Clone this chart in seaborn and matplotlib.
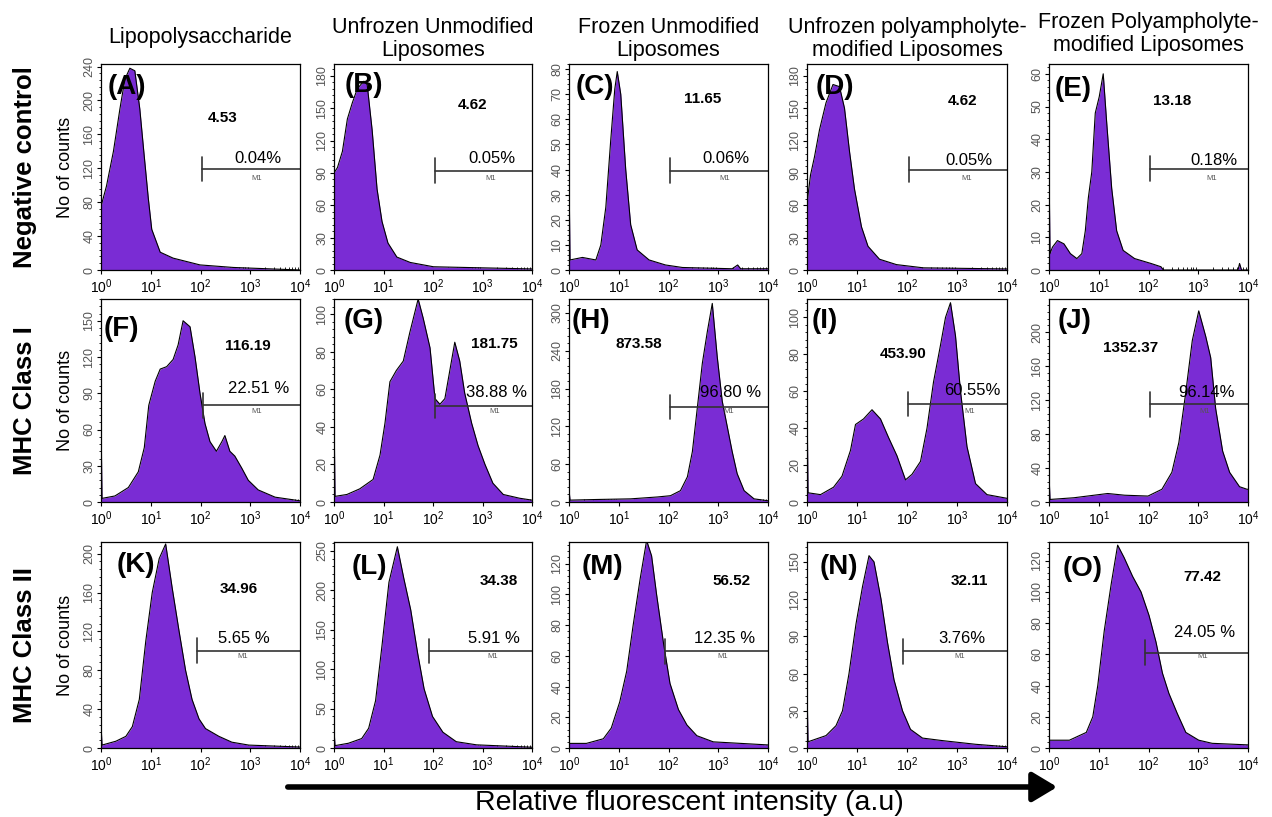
import numpy as np
import matplotlib
matplotlib.use("Agg")
import matplotlib.pyplot as plt
import seaborn as sns
from matplotlib.ticker import MultipleLocator, LogLocator, NullFormatter

sns.set_style("ticks")
plt.rcParams['font.family'] = ['Liberation Sans', 'DejaVu Sans']
plt.rcParams['mathtext.fontset'] = 'custom'
plt.rcParams['mathtext.rm'] = 'Liberation Sans'
plt.rcParams['text.color'] = 'black'
plt.rcParams['axes.edgecolor'] = 'black'
plt.rcParams['xtick.color'] = 'black'
plt.rcParams['ytick.color'] = 'black'

# histogram outlines: log10(intensity), counts
A_x = [0, 0.11, 0.25, 0.38, 0.48, 0.58, 0.68, 0.78, 0.86, 0.95, 1.02, 1.19, 1.45, 1.99, 2.66, 4]
A_y = [75, 99, 140, 190, 225, 238, 235, 190, 140, 85, 48, 21, 14, 6, 3, 0]
B_x = [0, 0.07, 0.17, 0.27, 0.37, 0.47, 0.60, 0.67, 0.77, 0.87, 0.97, 1.09, 1.27, 1.54, 2.01, 4]
B_y = [90, 95, 110, 140, 155, 168, 175, 172, 130, 75, 45, 25, 12, 7, 3, 1]
C_x = [0, 0.02, 0.27, 0.54, 0.64, 0.74, 0.84, 0.92, 0.97, 1.04, 1.14, 1.24, 1.37, 1.61, 1.94, 2.28, 3.28, 3.39, 3.45, 4]
C_y = [40, 4, 5, 4, 10, 25, 52, 72, 79, 70, 40, 18, 8, 4, 2, 1, 0.5, 2, 0.5, 0.5]
D_x = [0, 0.07, 0.15, 0.25, 0.38, 0.52, 0.65, 0.75, 0.85, 0.95, 1.09, 1.22, 1.45, 1.79, 2.33, 4]
D_y = [62, 88, 105, 130, 155, 172, 170, 150, 110, 75, 40, 22, 10, 5, 2, 1]
E_x = [0, 0.02, 0.07, 0.17, 0.30, 0.43, 0.56, 0.66, 0.73, 0.79, 0.86, 0.93, 1.01, 1.09, 1.16, 1.26, 1.36, 1.49, 1.72, 2.05, 2.25, 2.3, 3.8, 3.83, 3.87, 4]
E_y = [33, 5, 7, 9, 8, 5, 3.5, 5, 12, 22, 30, 48, 53, 60, 45, 25, 12, 6, 3.5, 2, 1, 0, 0, 2, 0, 0]
F_x = [0, 0.02, 0.28, 0.55, 0.75, 0.87, 0.96, 1.09, 1.19, 1.32, 1.45, 1.55, 1.65, 1.79, 1.89, 1.99, 2.09, 2.19, 2.32, 2.43, 2.49, 2.59, 2.69, 2.83, 2.96, 3.16, 3.50, 4]
F_y = [70, 3, 5, 12, 25, 45, 80, 100, 110, 112, 118, 130, 150, 145, 120, 90, 65, 50, 42, 50, 55, 42, 38, 28, 18, 10, 4, 1]
G_x = [0, 0.02, 0.26, 0.52, 0.79, 0.93, 1.03, 1.13, 1.26, 1.40, 1.53, 1.70, 1.80, 1.94, 2.04, 2.14, 2.24, 2.34, 2.44, 2.54, 2.64, 2.78, 2.91, 3.05, 3.21, 3.42, 3.75, 4]
G_y = [50, 3, 4, 7, 12, 25, 42, 64, 70, 75, 90, 108, 98, 82, 55, 52, 55, 70, 85, 75, 58, 42, 30, 20, 10, 4, 2, 1]
H_x = [0, 0.02, 0.57, 1.24, 1.78, 2.04, 2.24, 2.38, 2.48, 2.58, 2.68, 2.78, 2.88, 2.98, 3.08, 3.18, 3.28, 3.38, 3.52, 3.72, 4]
H_y = [20, 3, 4, 5, 8, 10, 18, 40, 80, 150, 220, 270, 315, 230, 160, 120, 80, 45, 18, 5, 2]
I_x = [0, 0.02, 0.27, 0.53, 0.70, 0.87, 0.97, 1.13, 1.30, 1.47, 1.63, 1.80, 1.97, 2.10, 2.27, 2.40, 2.53, 2.67, 2.77, 2.87, 2.97, 3.07, 3.20, 3.37, 3.60, 4]
I_y = [58, 5, 4, 8, 14, 28, 42, 45, 50, 45, 35, 25, 12, 15, 22, 40, 65, 85, 100, 108, 90, 60, 30, 10, 4, 2]
J_x = [0, 0.02, 0.50, 1.18, 1.52, 1.99, 2.27, 2.47, 2.61, 2.74, 2.88, 3.01, 3.15, 3.25, 3.35, 3.49, 3.63, 3.83, 3.98, 4]
J_y = [33, 3, 5, 10, 8, 7, 15, 35, 70, 125, 190, 225, 195, 170, 110, 60, 35, 18, 15, 15]
K_x = [0, 0.02, 0.30, 0.50, 0.63, 0.77, 0.90, 1.03, 1.17, 1.30, 1.43, 1.57, 1.70, 1.83, 1.97, 2.10, 2.37, 2.63, 2.97, 4]
K_y = [25, 3, 7, 12, 22, 50, 110, 160, 195, 210, 165, 120, 80, 50, 30, 20, 12, 6, 3, 1]
L_x = [0, 0.02, 0.29, 0.56, 0.70, 0.84, 0.97, 1.11, 1.28, 1.41, 1.55, 1.69, 1.82, 1.99, 2.20, 2.47, 2.88, 4]
L_y = [23, 3, 6, 12, 25, 60, 130, 210, 255, 215, 175, 120, 75, 40, 20, 8, 4, 1]
M_x = [0, 0.35, 0.69, 0.85, 1.02, 1.16, 1.29, 1.43, 1.56, 1.66, 1.76, 1.90, 2.03, 2.20, 2.37, 2.57, 2.90, 4]
M_y = [3, 3, 6, 13, 30, 50, 80, 110, 135, 125, 100, 68, 42, 25, 15, 8, 4, 2]
N_x = [0, 0.02, 0.38, 0.58, 0.71, 0.84, 0.98, 1.11, 1.24, 1.34, 1.48, 1.61, 1.74, 1.91, 2.07, 2.31, 2.70, 3.37, 4]
N_y = [50, 5, 10, 18, 30, 60, 100, 130, 155, 150, 120, 85, 55, 30, 15, 8, 6, 3, 1]
O_x = [0, 0.41, 0.75, 0.88, 0.98, 1.11, 1.25, 1.38, 1.51, 1.68, 1.85, 2.01, 2.15, 2.28, 2.41, 2.58, 2.75, 3.01, 3.28, 4]
O_y = [5, 5, 10, 20, 40, 75, 105, 130, 122, 110, 100, 85, 68, 48, 35, 22, 10, 5, 3, 2]

letters = list("ABCDEFGHIJKLMNO")
hist_x = [A_x, B_x, C_x, D_x, E_x, F_x, G_x, H_x, I_x, J_x, K_x, L_x, M_x, N_x, O_x]
hist_y = [A_y, B_y, C_y, D_y, E_y, F_y, G_y, H_y, I_y, J_y, K_y, L_y, M_y, N_y, O_y]
y_max = [243, 191, 82, 191, 63, 168, 108, 322, 110, 239, 212, 261, 134, 166, 132]
y_step = [40, 30, 10, 30, 10, 30, 20, 60, 20, 40, 40, 50, 20, 30, 20]
mean_vals = ["4.53", "4.62", "11.65", "4.62", "13.18", "116.19", "181.75", "873.58", "453.90", "1352.37",
             "34.96", "34.38", "56.52", "32.11", "77.42"]
pct_vals = ["0.04%", "0.05%", "0.06%", "0.05%", "0.18%", "22.51 %", "38.88 %", "96.80 %", "60.55%", "96.14%",
            "5.65 %", "5.91 %", "12.35 %", "3.76%", "24.05 %"]
gate_start = [2.04, 2.04, 2.04, 2.04, 2.04, 2.06, 2.04, 2.04, 2.02, 2.03, 1.92, 1.92, 1.92, 1.92, 1.92]
gate_level = [119, 92, 39.5, 93, 31, 80, 51, 151, 53, 115, 100, 123, 63, 78, 61]

col_titles = ["Lipopolysaccharide", "Unfrozen Unmodified\nLiposomes", "Frozen Unmodified\nLiposomes",
              "Unfrozen polyampholyte-\nmodified Liposomes", "Frozen Polyampholyte-\nmodified Liposomes"]
row_titles = ["Negative control", "MHC Class I", "MHC Class II"]

# layout (pixels)
W, H = 1272, 817
col_left = [101, 334, 569, 807, 1049]
col_w = [199, 198, 199, 200, 199]
row_top = [64, 299, 542]
row_h = [206, 203, 206]
title_bottom = [38, 61, 61, 61, 56]
letter_pos = [(0.13, 0.89), (0.15, 0.90), (0.13, 0.89), (0.14, 0.89), (0.12, 0.88),
              (0.10, 0.85), (0.15, 0.89), (0.11, 0.89), (0.09, 0.89), (0.13, 0.89),
              (0.175, 0.89), (0.18, 0.88), (0.17, 0.88), (0.16, 0.88), (0.17, 0.87)]
mean_pos = [(0.61, 0.74), (0.70, 0.80), (0.67, 0.83), (0.78, 0.82), (0.62, 0.82),
            (0.74, 0.77), (0.81, 0.78), (0.35, 0.78), (0.48, 0.73), (0.41, 0.76),
            (0.69, 0.77), (0.83, 0.81), (0.815, 0.81), (0.81, 0.81), (0.77, 0.83)]
pct_pos = [(0.79, 0.54), (0.80, 0.54), (0.79, 0.54), (0.81, 0.53), (0.83, 0.53),
           (0.79, 0.56), (0.82, 0.54), (0.81, 0.54), (0.825, 0.55), (0.79, 0.54),
           (0.72, 0.53), (0.81, 0.53), (0.78, 0.53), (0.775, 0.53), (0.78, 0.56)]

purple = "#7A2CD4"
fig = plt.figure(figsize=(W / 100, H / 100), dpi=100)

for i in range(15):
    r, c = divmod(i, 5)
    rect = [col_left[c] / W, 1 - (row_top[r] + row_h[r]) / H, col_w[c] / W, row_h[r] / H]
    ax = fig.add_axes(rect)
    xs = 10 ** np.array(hist_x[i], dtype=float)
    ys = np.array(hist_y[i], dtype=float)
    ax.fill_between(xs, ys, color=purple, lw=0)
    sns.lineplot(x=xs, y=ys, ax=ax, color="black", lw=0.8, sort=False, estimator=None)
    ax.set_xscale("log")
    ax.set_xlim(1, 1e4)
    ax.set_ylim(0, y_max[i])
    ax.yaxis.set_major_locator(MultipleLocator(y_step[i]))
    ax.yaxis.set_minor_locator(MultipleLocator(y_step[i] / 5))
    ax.xaxis.set_major_locator(LogLocator(base=10, numticks=6))
    ax.xaxis.set_minor_locator(LogLocator(base=10, subs=np.arange(2, 10), numticks=12))
    ax.xaxis.set_minor_formatter(NullFormatter())
    ax.tick_params(axis="y", labelrotation=90, labelsize=9, labelcolor="#555555", length=3, pad=1)
    ax.tick_params(axis="y", which="minor", length=1.5)
    ax.tick_params(axis="x", labelsize=10, length=3, pad=2)
    ax.tick_params(axis="x", which="minor", direction="in", length=2)
    for lab in ax.get_yticklabels():
        lab.set_verticalalignment("center")
    for sp in ax.spines.values():
        sp.set_visible(True)
        sp.set_linewidth(0.9)
    ax.set_xlabel("")
    ax.set_ylabel("")

    # M1 gate marker
    gx = 10 ** gate_start[i]
    gy = gate_level[i]
    ax.plot([gx, 1e4], [gy, gy], color="#333333", lw=1.2)
    ax.plot([gx, gx], [gy - 0.06 * y_max[i], gy + 0.06 * y_max[i]], color="#333333", lw=1.2)
    ax.text(pct_pos[i][0], pct_pos[i][1], pct_vals[i], transform=ax.transAxes,
            ha="center", va="center", fontsize=12)
    ax.text(pct_pos[i][0] - 0.01, 0.445, "M1", transform=ax.transAxes,
            ha="center", va="center", fontsize=5.5, color="#555555")
    ax.text(mean_pos[i][0], mean_pos[i][1], mean_vals[i], transform=ax.transAxes,
            ha="center", va="center", fontsize=11, fontweight="bold")
    ax.text(letter_pos[i][0], letter_pos[i][1], "(" + letters[i] + ")", transform=ax.transAxes,
            ha="center", va="center", fontsize=20, fontweight="bold")

    if r == 0:
        if "\n" in col_titles[c]:
            fig.text((col_left[c] + col_w[c] / 2) / W, 1 - title_bottom[c] / H, col_titles[c],
                     ha="center", va="bottom", fontsize=15.5, linespacing=1.1)
        else:
            fig.text((col_left[c] + col_w[c] / 2) / W, 1 - title_bottom[c] / H, col_titles[c],
                     ha="center", va="center", fontsize=15.5)
    if c == 0:
        cy = 1 - (row_top[r] + row_h[r] / 2) / H
        fig.text(25 / W, cy, row_titles[r], rotation=90, ha="center", va="center",
                 fontsize=18.5, fontweight="bold")
        fig.text(66 / W, cy, "No of counts", rotation=90, ha="center", va="center", fontsize=13)

# bottom arrow and axis caption
fig.add_artist(matplotlib.patches.FancyArrowPatch(
    (285 / W, 1 - 787 / H), (1060 / W, 1 - 787 / H), transform=fig.transFigure,
    arrowstyle="-|>,head_length=10,head_width=6", color="black", lw=4, mutation_scale=1.5))
fig.text(689 / W, 1 - 803 / H, "Relative fluorescent intensity (a.u)", ha="center", va="center", fontsize=20.5)

fig.savefig("out.png", dpi=100)
